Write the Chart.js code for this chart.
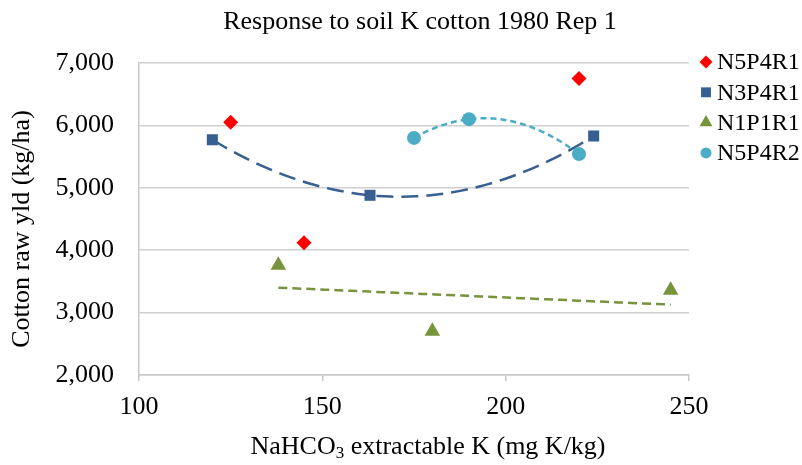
<!DOCTYPE html>
<html>
<head>
<meta charset="utf-8">
<script src="https://cdn.jsdelivr.net/npm/chart.js@4.4.0/dist/chart.umd.min.js"></script>
<style>
  html, body { margin: 0; padding: 0; background: #fff; }
  #wrap { width: 802px; height: 465px; position: relative; }
</style>
</head>
<body>
<div id="wrap"><canvas id="c"></canvas></div>
<script>
// datos
const seriesNames = ['N5P4R1', 'N3P4R1', 'N1P1R1', 'N5P4R2'];
const n5p4r1X = [125, 145, 220];
const n5p4r1Y = [6050, 4120, 6750];
const n3p4r1X = [120, 163, 224];
const n3p4r1Y = [5770, 4880, 5830];
const n1p1r1X = [138, 180, 245];
const n1p1r1Y = [3760, 2700, 3360];
const n5p4r2X = [175, 190, 220];
const n5p4r2Y = [5800, 6100, 5540];
const xTicks = [100, 150, 200, 250];
const yTicks = [2000, 3000, 4000, 5000, 6000, 7000];

const chartTitle = 'Response to soil K cotton 1980 Rep 1';
const yTitle = 'Cotton raw yld (kg/ha)';

const RED = '#FF0000', BLUE = '#376092', GREEN = '#77933C', CYAN = '#4BACC6';
const SERIF = '"Liberation Serif", "Times New Roman", serif';

const toPoints = (xs, ys) => xs.map((x, i) => ({ x, y: ys[i] }));

// ajuste polinómico (mínimos cuadrados) como la línea de tendencia de Excel
function polyFit(xs, ys, order) {
  const n = order + 1;
  const A = Array.from({ length: n }, () => new Array(n + 1).fill(0));
  for (let k = 0; k < xs.length; k++) {
    for (let i = 0; i < n; i++) {
      for (let j = 0; j < n; j++) A[i][j] += Math.pow(xs[k], i + j);
      A[i][n] += ys[k] * Math.pow(xs[k], i);
    }
  }
  for (let i = 0; i < n; i++) {
    let p = i;
    for (let r = i + 1; r < n; r++) if (Math.abs(A[r][i]) > Math.abs(A[p][i])) p = r;
    [A[i], A[p]] = [A[p], A[i]];
    for (let r = 0; r < n; r++) {
      if (r === i) continue;
      const f = A[r][i] / A[i][i];
      for (let c = i; c <= n; c++) A[r][c] -= f * A[i][c];
    }
  }
  return A.map((row, i) => row[n] / row[i]);
}

function trend(xs, ys, order) {
  const coef = polyFit(xs, ys, order);
  const lo = Math.min(...xs), hi = Math.max(...xs);
  const pts = [];
  for (let s = 0; s <= 60; s++) {
    const x = lo + (hi - lo) * s / 60;
    pts.push({ x, y: coef.reduce((acc, c, i) => acc + c * Math.pow(x, i), 0) });
  }
  return pts;
}

function markerSet(label, xs, ys, color, style, radius) {
  return {
    label, data: toPoints(xs, ys), inLegend: true,
    backgroundColor: color, borderColor: color, borderWidth: 0,
    pointStyle: style, pointRadius: radius, pointHoverRadius: radius, showLine: false,
  };
}

function trendSet(pts, color, dash) {
  return {
    label: '', data: pts, inLegend: false,
    showLine: true, borderColor: color, borderWidth: 2.5, borderDash: dash,
    pointRadius: 0, pointHoverRadius: 0, fill: false, tension: 0,
  };
}

const datasets = [
  markerSet(seriesNames[0], n5p4r1X, n5p4r1Y, RED, 'rectRot', 7.5),
  markerSet(seriesNames[1], n3p4r1X, n3p4r1Y, BLUE, 'rect', 7.8),
  markerSet(seriesNames[2], n1p1r1X, n1p1r1Y, GREEN, 'triangle', 9),
  markerSet(seriesNames[3], n5p4r2X, n5p4r2Y, CYAN, 'circle', 7),
  trendSet(trend(n5p4r2X, n5p4r2Y, 2), CYAN, [6, 4]),
  trendSet(trend(n3p4r1X, n3p4r1Y, 2), BLUE, [17, 8]),
  trendSet(trend(n1p1r1X, n1p1r1Y, 1), GREEN, [9, 5]),
];

// títulos y leyenda dibujados a mano (subíndice y posiciones de Excel)
const textPlugin = {
  id: 'textos',
  afterDraw(chart) {
    const ctx = chart.ctx;
    const area = chart.chartArea;
    ctx.save();
    ctx.fillStyle = '#000';
    ctx.textBaseline = 'middle';

    ctx.font = '26px ' + SERIF;
    ctx.textAlign = 'center';
    ctx.fillText(chartTitle, 420, 22);

    // título eje Y
    ctx.save();
    ctx.translate(22, 229);
    ctx.rotate(-Math.PI / 2);
    ctx.fillText(yTitle, 0, 0);
    ctx.restore();

    // título eje X con subíndice
    ctx.textAlign = 'left';
    const a = 'NaHCO', sub = '3', b = ' extractable K (mg K/kg)';
    ctx.font = '26px ' + SERIF;
    const wa = ctx.measureText(a).width, wb = ctx.measureText(b).width;
    ctx.font = '17px ' + SERIF;
    const ws = ctx.measureText(sub).width;
    let x = 428 - (wa + ws + wb) / 2;
    const y = 447;
    ctx.font = '26px ' + SERIF;
    ctx.fillText(a, x, y); x += wa;
    ctx.font = '17px ' + SERIF;
    ctx.fillText(sub, x, y + 7); x += ws;
    ctx.font = '26px ' + SERIF;
    ctx.fillText(b, x, y);

    // leyenda
    ctx.font = '24px ' + SERIF;
    const items = chart.data.datasets.filter(d => d.inLegend);
    const radii = { rectRot: 6.5, rect: 7, triangle: 7.5, circle: 5.5 };
    items.forEach((d, i) => {
      const ly = 62 + i * 30.3;
      const lx = area.right + 17;
      ctx.fillStyle = d.backgroundColor;
      Chart.helpers.drawPoint(ctx, { pointStyle: d.pointStyle, radius: radii[d.pointStyle], borderWidth: 0 }, lx, ly);
      ctx.fillStyle = '#000';
      ctx.fillText(d.label, lx + 11, ly + 1);
    });
    ctx.restore();
  }
};

new Chart(document.getElementById('c'), {
  type: 'scatter',
  data: { datasets },
  options: {
    responsive: true,
    maintainAspectRatio: false,
    animation: false,
    layout: { padding: { top: 63, right: 113, bottom: 0, left: 0 } },
    plugins: {
      legend: { display: false },
      title: { display: false },
      tooltip: { enabled: false },
    },
    scales: {
      x: {
        type: 'linear', min: xTicks[0], max: xTicks[xTicks.length - 1],
        afterBuildTicks: (s) => { s.ticks = xTicks.map(v => ({ value: v })); },
        afterFit: (s) => { s.height = 90; },
        grid: { display: true, drawOnChartArea: false, drawTicks: true, tickLength: 6, color: '#c8c8c8', lineWidth: 1.5 },
        border: { display: true, color: '#c8c8c8', width: 1.5 },
        ticks: { color: '#000', font: { family: SERIF, size: 26 }, padding: 11, maxRotation: 0 },
      },
      y: {
        type: 'linear', min: yTicks[0], max: yTicks[yTicks.length - 1],
        afterBuildTicks: (s) => { s.ticks = yTicks.map(v => ({ value: v })); },
        afterFit: (s) => { s.width = 139; },
        grid: { color: '#d0d0d0', lineWidth: 1.5, drawTicks: false },
        border: { display: true, color: '#c8c8c8', width: 1.5 },
        ticks: {
          color: '#000', font: { family: SERIF, size: 26 }, padding: 25,
          callback: (v) => Number(v).toLocaleString('en-US'),
        },
      },
    },
  },
  plugins: [textPlugin],
});
</script>
</body>
</html>
